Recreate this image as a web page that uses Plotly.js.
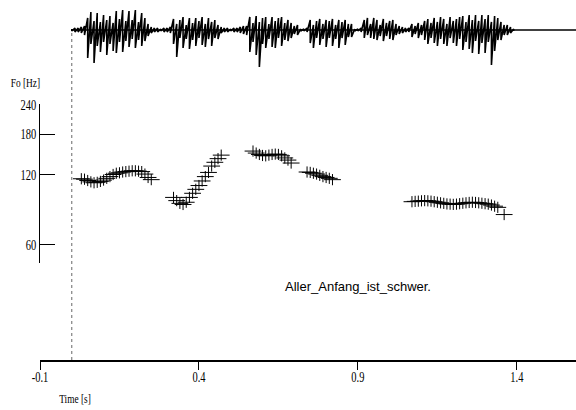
<!DOCTYPE html>
<html>
<head>
<meta charset="utf-8">
<script src="https://cdn.plot.ly/plotly-3.0.1.min.js"></script>
<style>
html,body{margin:0;padding:0;background:#fff;}
#chart{width:576px;height:410px;}
#chart g.xtick{transform-box:fill-box;transform-origin:center center;transform:scaleX(0.75);}
#chart g.ytick{transform-box:fill-box;transform-origin:right center;transform:scaleX(0.75);}
#chart g.annotation.serifnote{transform-box:fill-box;transform-origin:center center;transform:scaleX(0.72);}
</style>
</head>
<body>
<div id="chart"></div>
<script>
// ---- F0 contour (time in s, F0 in Hz) ----
const f0Times = [
  0.03,0.04,0.05,0.06,0.07,0.08,0.09,0.10,0.11,0.12,0.13,0.14,0.15,0.16,0.17,0.18,0.19,0.20,0.21,0.22,0.23,0.24,0.25,
  0.32,0.33,0.34,0.35,0.36,0.37,0.38,0.39,0.40,0.41,0.42,0.43,0.44,0.45,0.46,0.47,
  0.57,0.58,0.59,0.60,0.61,0.62,0.63,0.64,0.65,0.66,0.67,0.68,0.69,
  0.74,0.75,0.76,0.77,0.78,0.79,0.80,0.81,0.82,
  1.07,1.08,1.09,1.10,1.11,1.12,1.13,1.14,1.15,1.16,1.17,1.18,1.19,1.20,1.21,1.22,1.23,1.24,1.25,1.26,1.27,1.28,1.29,1.30,1.31,1.32,1.33,1.34,1.36
];
const f0Hz = [
  115.5,115,113.5,112,111,111.5,112.5,114,116,118,120.5,122,122.5,123.5,124,124.5,125,125,124.5,124,121,117,114.5,
  96,93,90.5,89.5,91.5,96,100,104,108,113,118,123,131,136,141,146,
  152,149,147,145.5,145,146,147,147.5,147,145,142,139,135,
  123.5,123,122,121,119.5,118,117,116,114.5,
  92,92.3,92.5,92.8,93,92.8,92.5,92,91.5,91,90.5,90,89.8,89.6,89.8,90.2,90.6,91,91.3,91.5,91.3,91,90.6,90.2,89.8,89,88,87,81
];

// ---- Oscillogram envelope (time in s, amplitude up / down) ----
const waveTimes = [
  0.00,0.01,0.02,0.03,0.04,0.05,0.06,0.07,0.08,0.09,0.10,0.11,0.12,0.13,0.14,0.15,0.16,0.17,0.18,0.19,
  0.20,0.21,0.22,0.23,0.24,0.25,0.26,0.27,0.28,0.29,0.30,0.31,0.32,0.33,0.34,0.35,0.36,0.37,0.38,0.39,
  0.40,0.41,0.42,0.43,0.44,0.45,0.46,0.47,0.48,0.49,0.50,0.51,0.52,0.53,0.54,0.55,0.56,0.57,0.58,0.59,
  0.60,0.61,0.62,0.63,0.64,0.65,0.66,0.67,0.68,0.69,0.70,0.71,0.72,0.73,0.74,0.75,0.76,0.77,0.78,0.79,
  0.80,0.81,0.82,0.83,0.84,0.85,0.86,0.87,0.88,0.89,0.90,0.91,0.92,0.93,0.94,0.95,0.96,0.97,0.98,0.99,
  1.00,1.01,1.02,1.03,1.04,1.05,1.06,1.07,1.08,1.09,1.10,1.11,1.12,1.13,1.14,1.15,1.16,1.17,1.18,1.19,
  1.20,1.21,1.22,1.23,1.24,1.25,1.26,1.27,1.28,1.29,1.30,1.31,1.32,1.33,1.34,1.35,1.36,1.37,1.38,1.39
];
const waveUp = [
  1,2,2,3,4, 12,18,9,17, 8,15,10,14,7, 19,11,20,9, 19,10,20,8,17, 12,6,
  3,2,2,1,2,2,3,
  11,6,10,13,5,12,7,12,9,13,6,12,8,10,5,
  3,2,2,1,2,2, 3,4,4,
  13,7,14,8,12, 13,6,13,9,12,13,7,10, 7,4,5, 1,1,2,
  10,5,9,11,6,10,9,11,5,10,8,10,6,6, 1,1,2,
  10,12,6,12, 10,5,11,7,9,10,6, 4,3,2,2,
  6,4,7,5,9, 11,7,12,8,13,11,6,13,9,11,13,
  14,8,15,10,15,9,15,11,15,8,14,12, 8,5,5,3,1
];
const waveDown = [
  1,2,2,3,5, 28,14,33,16,
  22,12,25,14,21, 23,12,22,11, 17,9,18,10,16, 11,6,
  3,2,2,1,2,2,3,
  14,27,8,18,9,19,10,16,8,15,17,9,16,8,9,
  3,2,2,1,2,2, 3,4,5,
  22,12,25,37,14, 18,9,17,18,8,16,10,11, 8,4,5, 1,1,2,
  13,18,8,15,9,17,8,16,9,18,8,15,7,7, 1,1,2,
  8,5,8,9, 10,6,11,6,9,10,5, 4,3,2,2,
  7,4,8,5,10, 14,8,13,16,9,14,16,8,13,16,9,
  20,12,19,23,11,24,13,23,12,35,21,10, 10,5,5,3,1
];

const xTickVals = [-0.1, 0.4, 0.9, 1.4];
const xTickText = ['-0.1', '0.4', '0.9', '1.4'];
const yTickVals = [60, 120, 180, 240];
const yTickText = ['60', '120', '180', '240'];
const sentence = 'Aller_Anfang_ist_schwer.';

// build oscillogram path from envelope data
const wx = [], wy = [];
for (let i = 0; i < waveTimes.length; i++) {
  wx.push(waveTimes[i], waveTimes[i]);
  wy.push(waveUp[i], -waveDown[i]);
}

const serif = 'Liberation Serif';
const X_MAX = 1.586;

const traces = [
  {
    x: wx, y: wy, xaxis: 'x', yaxis: 'y2', type: 'scatter', mode: 'lines',
    line: {color: '#000', width: 1.6}, hoverinfo: 'skip', showlegend: false
  },
  {
    x: f0Times, y: f0Hz, xaxis: 'x', yaxis: 'y', type: 'scatter', mode: 'markers',
    marker: {symbol: 'line-ew-open', size: 12, color: '#000', line: {color: '#000', width: 1}},
    showlegend: false
  },
  {
    x: f0Times, y: f0Hz, xaxis: 'x', yaxis: 'y', type: 'scatter', mode: 'markers',
    marker: {symbol: 'line-ns-open', size: 8, color: '#000', line: {color: '#000', width: 1}},
    showlegend: false
  }
];

const layout = {
  width: 576, height: 410,
  margin: {l: 40, r: 0, t: 0, b: 50},
  paper_bgcolor: '#fff', plot_bgcolor: 'rgba(0,0,0,0)',
  showlegend: false,
  xaxis: {
    range: [-0.1, X_MAX], anchor: 'free', position: 0,
    tickvals: xTickVals, ticktext: xTickText,
    ticks: 'outside', ticklen: 8, tickwidth: 1, tickcolor: '#000',
    ticklabelstandoff: -4,
    showline: true, linecolor: '#000', linewidth: 1.5,
    showgrid: false, zeroline: false,
    tickfont: {family: serif, size: 14, color: '#000'}
  },
  yaxis: {
    type: 'log', domain: [0.2694, 0.7111], range: [1.6998, 2.3845],
    anchor: 'x',
    tickvals: yTickVals, ticktext: yTickText,
    ticks: 'inside', ticklen: 15, tickwidth: 1, tickcolor: '#000',
    showline: true, linecolor: '#000', linewidth: 1,
    showgrid: false, zeroline: false,
    tickfont: {family: serif, size: 14, color: '#000'}
  },
  yaxis2: {
    domain: [0.8056, 1], range: [-40, 30], visible: false, anchor: 'x',
    showgrid: false, zeroline: false
  },
  shapes: [
    {type: 'line', xref: 'x', yref: 'paper', x0: 0, x1: 0, y0: 0, y1: 0.9167,
     line: {color: '#666', width: 1, dash: 'dot'}},
    {type: 'line', xref: 'x', yref: 'y2', x0: 0, x1: X_MAX, y0: 0, y1: 0,
     line: {color: '#000', width: 1.5}}
  ],
  annotations: [
    {text: 'Fo [Hz]', xref: 'paper', yref: 'paper', x: -0.0265, y: 0.7722,
     xanchor: 'center', yanchor: 'middle', showarrow: false,
     font: {family: serif, size: 13, color: '#000'}},
    {text: 'Time [s]', xref: 'paper', yref: 'paper', x: 0.0653, y: -0.1056,
     xanchor: 'center', yanchor: 'middle', showarrow: false,
     font: {family: serif, size: 13, color: '#000'}},
    {text: sentence, xref: 'x', yref: 'paper', x: 0.9, y: 0.2028,
     xanchor: 'center', yanchor: 'middle', showarrow: false,
     font: {family: 'Liberation Sans Narrow, Liberation Sans, Arial, sans-serif', size: 13, color: '#000'}}
  ]
};

Plotly.newPlot('chart', traces, layout, {displayModeBar: false, staticPlot: true}).then(function () {
  // condense the serif labels like the original narrow Times rendering
  const anns = document.querySelectorAll('#chart g.annotation');
  for (let i = 0; i < 2 && i < anns.length; i++) anns[i].classList.add('serifnote');
});
</script>
</body>
</html>
